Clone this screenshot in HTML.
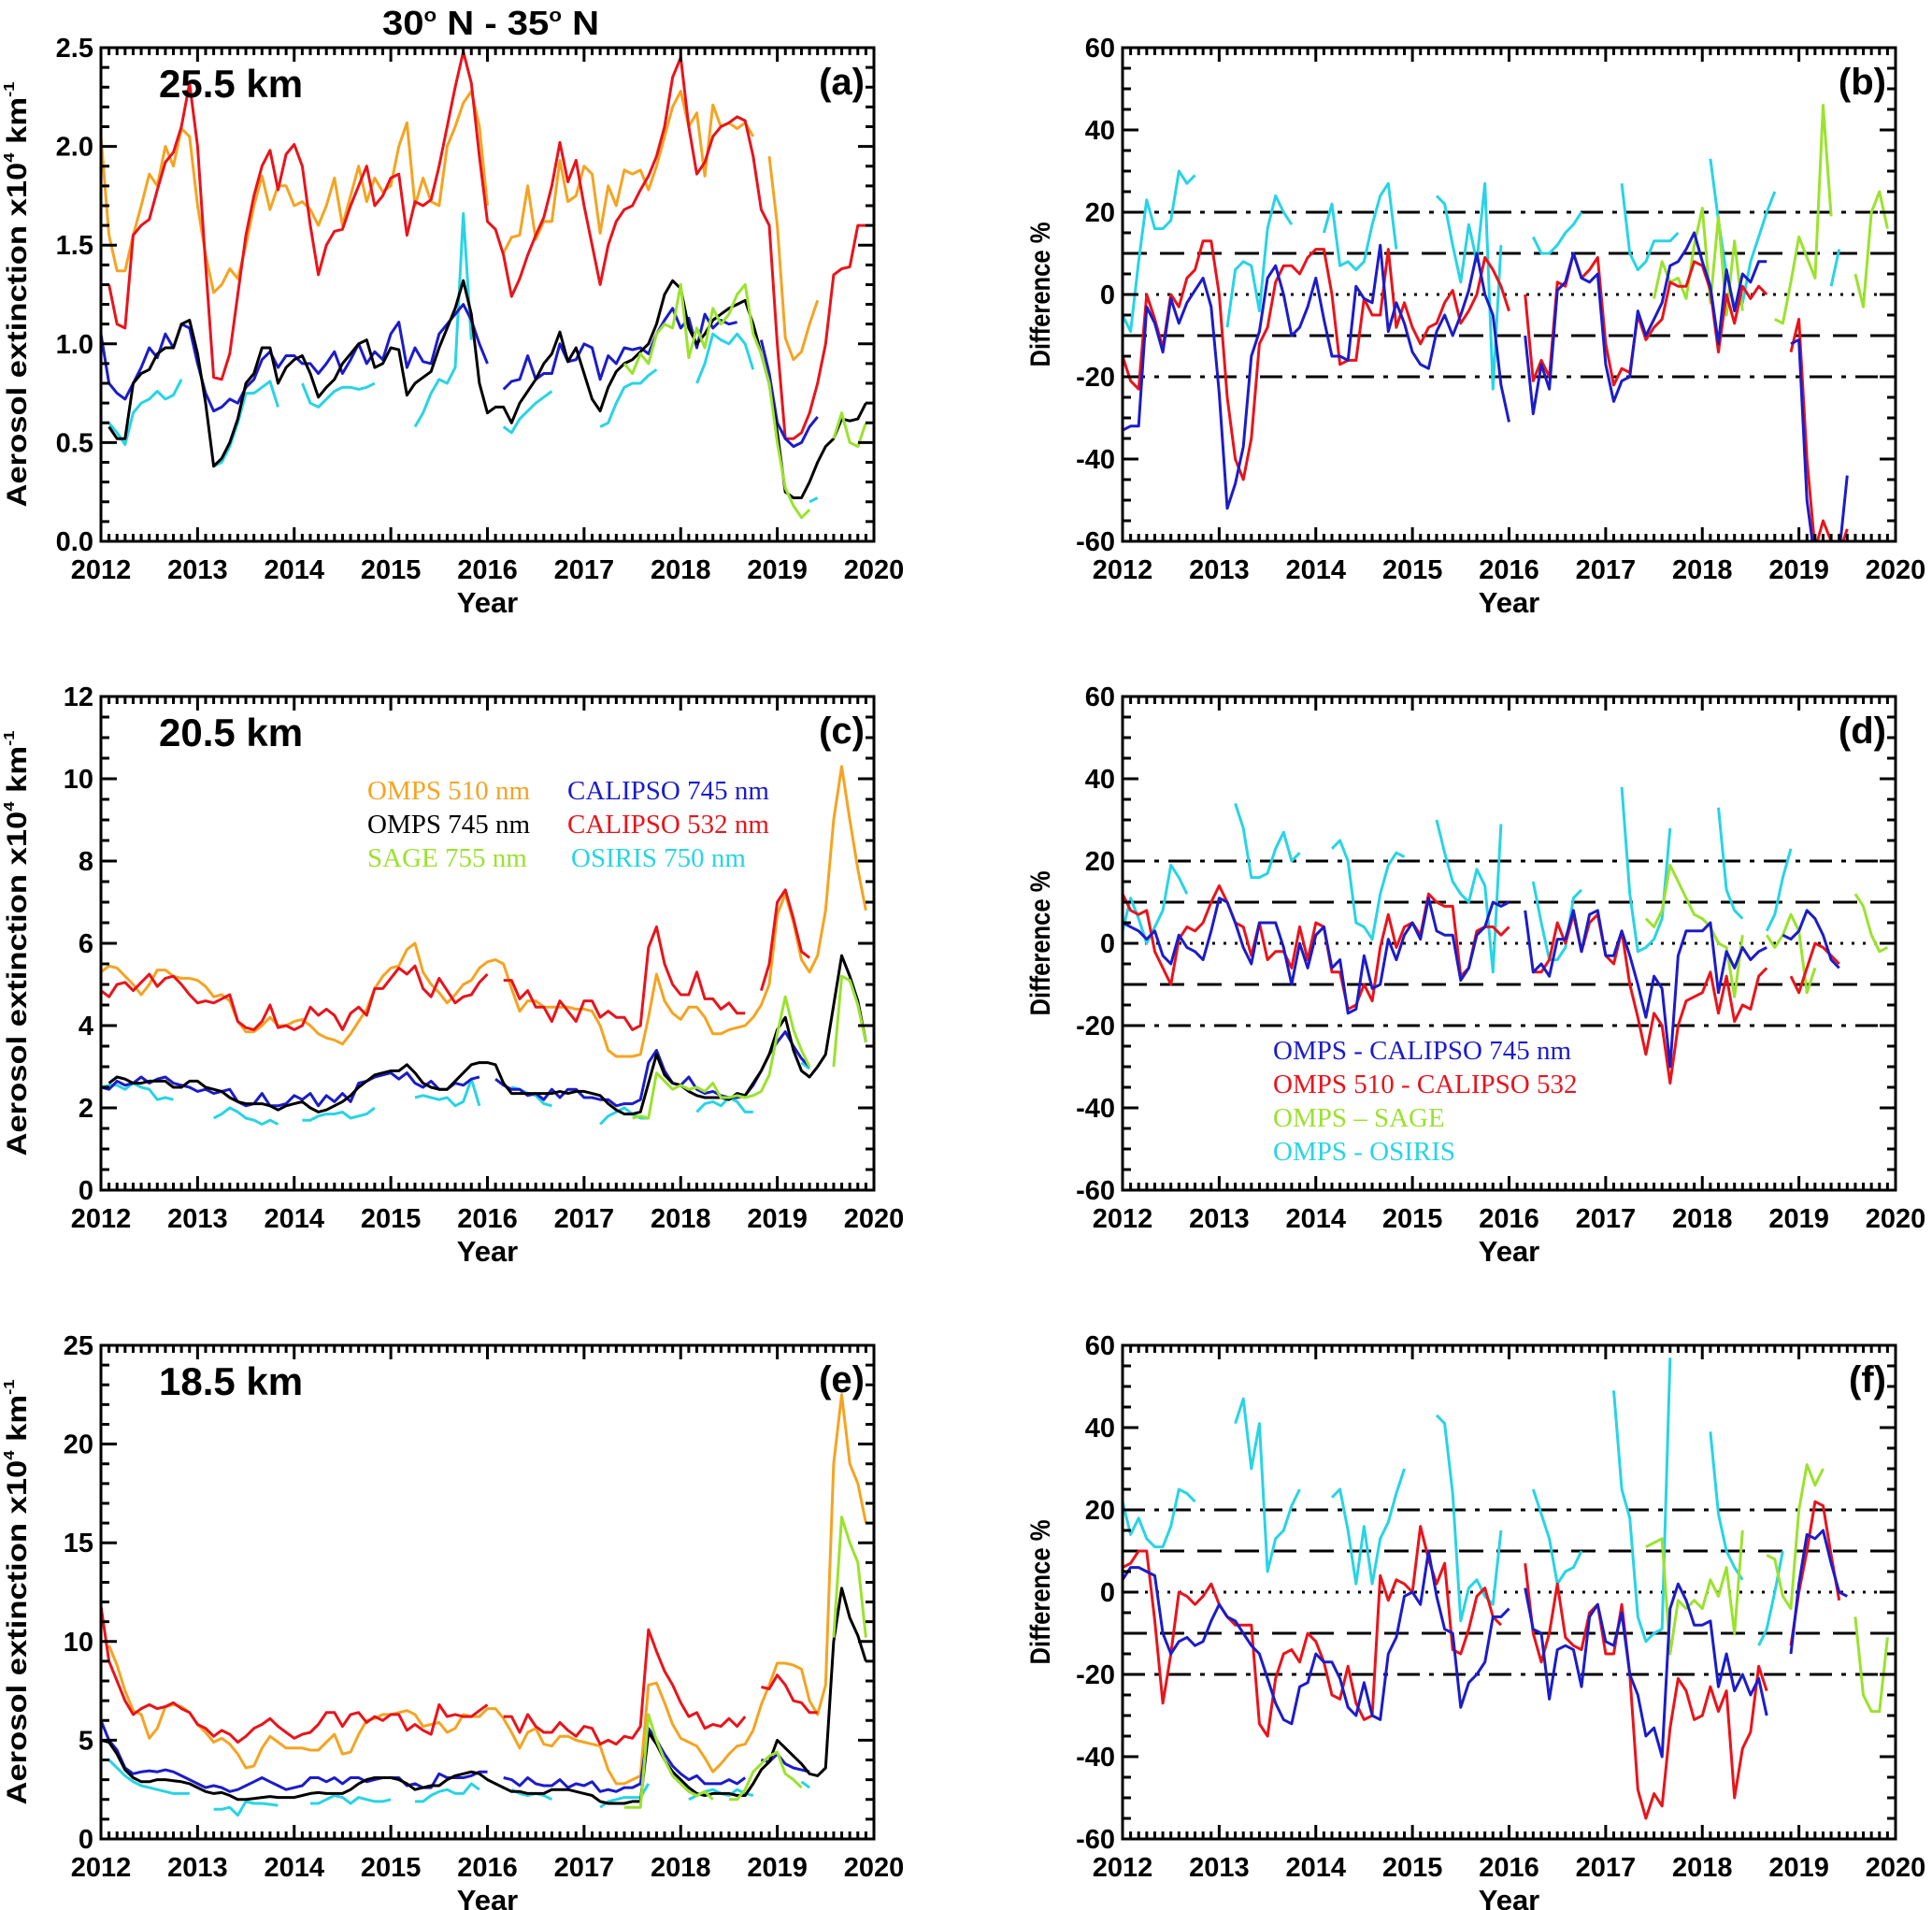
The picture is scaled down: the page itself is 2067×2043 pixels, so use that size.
<!DOCTYPE html>
<html><head><meta charset="utf-8"><title>30N-35N aerosol extinction</title>
<style>
html,body{margin:0;padding:0;background:#fff;}
svg{display:block;font-family:"Liberation Sans",Arial,sans-serif;}
.tk{font-weight:bold;font-size:29px;}
.leg{font-family:"Liberation Serif","Times New Roman",serif;font-size:29px;}
</style></head>
<body>
<svg id="fig" width="2067" height="2043" viewBox="0 0 2067 2043" xmlns="http://www.w3.org/2000/svg">
<text x="525" y="37" text-anchor="middle" font-weight="bold" font-size="36" textLength="232" lengthAdjust="spacingAndGlyphs">30<tspan font-size="20" dy="-14">o</tspan><tspan dy="14"> N - 35</tspan><tspan font-size="20" dy="-14">o</tspan><tspan dy="14"> N</tspan></text>
<g id="panels"></g>
<g class="leg">
<text x="393" y="855" fill="#F4A422">OMPS 510 nm</text>
<text x="607" y="855" fill="#1C1CC8">CALIPSO 745 nm</text>
<text x="393" y="891" fill="#000">OMPS 745 nm</text>
<text x="607" y="891" fill="#E8141C">CALIPSO 532 nm</text>
<text x="393" y="927" fill="#9BE22E">SAGE 755 nm</text>
<text x="611" y="927" fill="#28D4E4">OSIRIS 750 nm</text>
</g>
<g class="leg">
<text x="1362" y="1133" fill="#1C1CC8">OMPS - CALIPSO 745 nm</text>
<text x="1362" y="1169" fill="#E8141C">OMPS 510 - CALIPSO 532</text>
<text x="1362" y="1205" fill="#9BE22E">OMPS – SAGE</text>
<text x="1362" y="1241" fill="#28D4E4">OMPS - OSIRIS</text>
</g>
</svg>
<script>
const _ = null;
function ser(start, vals){ const a = new Array(96).fill(null); vals.forEach((v,i)=>{ if(start+i<96) a[start+i]=v; }); return a; }

const yearLabels = ["2012","2013","2014","2015","2016","2017","2018","2019","2020"];
const ticksA = ["0.0","0.5","1.0","1.5","2.0","2.5"];
const ticksC = ["0","2","4","6","8","10","12"];
const ticksE = ["0","5","10","15","20","25"];
const ticksDiff = ["-60","-40","-20","0","20","40","60"];

// Panel (a) 25.5 km
const aOrange = ser(0,[2.05,1.55,1.37,1.37,1.55,1.70,1.86,1.80,2.00,1.90,2.09,2.05, 1.70,1.45,1.26,1.30,1.38,1.33,1.50,1.70,1.85,1.68,1.80,1.80, 1.70,1.72,1.68,1.60,1.70,1.84,1.60,1.75,1.90,1.72,1.84,1.77, 1.80,2.00,2.12,1.70,1.84,1.72,1.70,2.00,2.10,2.22,2.28,2.10, 1.70,_,1.46,1.54,1.55,1.80,1.53,1.62,1.62,1.93,1.72,1.75, 1.90,1.86,1.56,1.80,1.70,1.88,1.86,1.88,1.78,1.90,2.05,2.20, 2.28,2.10,2.17,1.85,2.21,2.10,2.12,2.09,2.12,2.05,_,1.95, 1.60,1.03,0.92,0.96,1.10,1.22]);
const aRed = ser(0,[_,1.30,1.10,1.08,1.55,1.60,1.63,1.78,1.92,1.97,2.10,2.32, 2.00,1.40,0.83,0.82,0.95,1.25,1.55,1.75,1.90,1.98,1.78,1.96, 2.01,1.90,1.60,1.35,1.50,1.57,1.58,1.70,1.80,1.90,1.70,1.75, 1.84,1.86,1.55,1.72,1.70,1.73,1.90,2.10,2.30,2.48,2.32,1.95, 1.62,1.58,1.45,1.24,1.33,1.45,1.55,1.64,1.80,2.02,1.82,1.93, 1.70,1.50,1.30,1.50,1.62,1.68,1.70,1.78,1.85,1.95,2.10,2.35, 2.45,2.10,1.86,1.92,2.05,2.10,2.12,2.15,2.13,1.95,1.68,1.60, 1.00,0.52,0.52,0.55,0.65,0.80,1.00,1.35,1.38,1.39,1.60,1.60]);
const aBlack = ser(1,[0.58,0.52,0.52,0.80,0.85,0.87,0.95,0.98,0.98,1.10,1.12, 0.95,0.70,0.38,0.42,0.50,0.62,0.80,0.85,0.98,0.98,0.80,0.88, 0.92,0.94,0.85,0.73,0.78,0.82,0.90,0.95,1.00,1.02,0.88,0.90, 0.98,0.97,0.74,0.80,0.83,0.86,0.98,1.08,1.18,1.32,1.15,0.80, 0.65,0.68,0.68,0.60,0.70,0.76,0.82,0.90,0.95,1.06,0.91,0.98, 0.85,0.72,0.66,0.78,0.86,0.90,0.92,0.96,1.00,1.10,1.25,1.32, 1.28,1.08,1.00,1.05,1.12,1.15,1.18,1.20,1.22,1.10,0.95,0.80, 0.55,0.25,0.22,0.22,0.30,0.40,0.48,0.52,0.62,0.61,0.62,0.70]);
const aBlue = ser(0,[1.05,0.80,0.75,0.72,0.80,0.88,0.98,0.93,1.05,0.98,1.10,1.08, 0.90,0.75,0.66,0.68,0.72,0.70,0.78,0.82,0.92,0.96,0.88,0.94, 0.94,0.90,0.90,0.85,0.90,0.96,0.85,0.92,1.00,0.90,0.96,0.92, 1.05,1.11,0.88,0.98,0.91,0.90,1.05,1.10,1.15,1.20,1.12,1.00, 0.90,_,0.77,0.81,0.82,0.94,0.82,0.85,0.85,1.00,0.91,0.92, 1.00,0.98,0.82,0.94,0.90,0.98,0.97,0.98,0.95,1.05,1.12,1.18, 1.08,1.13,0.98,1.15,1.08,1.12,1.10,1.11,_,_,1.02,0.85, 0.60,0.52,0.48,0.50,0.58,0.63]);
const aCyan = ser(0,[0.60,0.60,0.55,0.49,0.65,0.70,0.72,0.76,0.72,0.74,0.82, _,_,_, 0.38,0.40,0.48,0.60,0.75,0.75,0.78,0.81,0.68, _,_, 0.80,0.70,0.68,0.72,0.76,0.78,0.78,0.77,0.78,0.80, _,_,_,_, 0.58,0.65,0.75,0.82,0.80,0.88,1.66,1.02, _,_,_, 0.58,0.55,0.62,0.66,0.70,0.73,0.76, _,_,_,_,_, 0.58,0.60,0.70,0.78,0.80,0.80,0.84,0.87, _,_,_,_, 0.80,0.90,1.05,1.02,1.00,1.05,1.00,0.87, _,_,_,_,_,_, 0.20,0.22]);
const aGreen = ser(65,[0.90,0.85,0.95,0.90,1.05,1.10,1.08,1.30,0.93,1.08,0.98,1.18, 1.10,1.15,1.25,1.30,1.05,0.95,0.80,0.50,0.27,0.18,0.12,0.16, _,_, 0.52,0.65,0.50,0.48,0.60]);

// Panel (b)
const bRed = ser(0,[-15,-21,-23,0,-6,-13,0,-3,4,6,13,13, 0,-25,-40,-45,-35,-12,-8,3,7,7,5,9, 11,11,0,-17,-16,-16,-1,-5,-5,11,-8,-2, -8,-12,-8,-7,-2,1,-7,-4,0,9,6,2, -4,_,0,-21,-16,-20,3,2,10,4,6,9, -12,-22,-18,-19,-5,-11,-8,-6,3,2,2,8, 7,1,-14,0,-7,2,-1,2,0,_,_,-14, -6,-40,-62,-55,-60,-63,-57]);
const bBlue = ser(0,[-33,-32,-32,-3,-7,-14,-1,-7,-2,1,4,-3, -24,-52,-46,-37,-15,-9,4,7,0,-10,-8,-3, 4,-6,-15,-15,-16,2,-1,-2,12,-9,-2,-7, -14,-17,-18,-9,-5,-10,-5,1,10,0,-5,-22, -31,_,-10,-29,-17,-23,1,3,10,4,3,5, -17,-26,-21,-20,-4,-10,-6,-2,7,8,11,15, 8,2,-12,6,-4,5,3,8,8,_,_,-12, -11,-50,-65,-70,-65,-63,-44]);
const bCyan = ser(0,[-5,-9,8,23,16,16,18,30,27,29, _,_,_, -8,6,8,7,-4,16,24,20,17, _,_,_, 15,22,7,8,6,8,17,24,27,11, _,_,_,_, 24,22,12,3,17,8,27,-23,12, _,_,_, 14,10,10,12,15,17,20, _,_,_,_, 27,10,6,8,13,13,13,15, _,_,_, 33,18,5,-3,-2,8,14,20,25, _,_,_,_,_,_, 2,11]);
const bGreen = ser(66,[-1,8,3,4,-1,12,21,-2,19,-5,13,-4, _,_,_, -6,-7,3,14,9,4,46,19, _,_, 5,-3,20,25,16]);

// Panel (c) 20.5 km
const cOrange = ser(0,[5.30,5.45,5.40,5.20,5.00,4.75,5.00,5.35,5.35,5.20,5.15,5.15, 5.10,4.95,4.70,4.75,4.60,4.10,3.85,3.85,4.00,4.20,4.00,4.00, 4.10,4.15,4.00,3.80,3.70,3.65,3.55,3.80,4.10,4.40,4.90,5.20, 5.40,5.45,5.85,6.00,5.30,5.00,4.80,4.55,4.75,5.00,5.10,5.40, 5.55,5.60,5.50,4.90,4.35,4.60,4.60,4.45,4.45,4.45,4.45,4.40, 4.40,4.35,4.00,3.40,3.25,3.25,3.25,3.30,4.20,5.25,4.60,4.30, 4.15,4.45,4.45,4.20,3.80,3.80,3.90,3.95,4.00,4.20,4.50,5.00, 6.70,7.20,6.50,5.60,5.30,5.70,6.80,9.00,10.30,9.00,7.80,6.80]);
const cRed = ser(0,[4.85,4.70,5.00,5.05,4.85,5.05,5.25,4.95,5.15,5.20,5.00,4.75, 4.55,4.60,4.55,4.65,4.75,4.10,3.95,3.90,4.10,4.50,3.95,4.00, 3.90,4.00,4.45,4.25,4.40,4.25,3.90,4.30,4.45,4.25,4.90,4.90, 5.15,5.40,5.25,5.45,4.90,4.70,5.15,4.85,4.55,4.70,4.75,5.05, 5.25,_,5.10,5.10,4.65,4.85,4.45,4.45,4.10,4.60,4.35,4.10, 4.60,4.60,4.20,4.35,4.20,4.20,3.90,4.00,5.90,6.40,5.50,5.00, 4.75,4.75,5.30,4.65,4.65,4.40,4.55,4.30,4.30,_,4.85,5.50, 7.00,7.30,6.60,5.80,5.65]);
const cBlack = ser(1,[2.60,2.75,2.70,2.60,2.60,2.65,2.65,2.65,2.50,2.50,2.65, 2.65,2.50,2.45,2.40,2.25,2.15,2.10,2.10,2.10,2.05,1.95,2.05, 2.10,2.15,2.00,1.90,1.95,2.05,2.15,2.30,2.50,2.65,2.80,2.85, 2.90,2.90,3.05,2.85,2.60,2.50,2.45,2.45,2.65,2.85,3.05,3.10, 3.10,3.05,2.60,2.35,2.35,2.35,2.35,2.35,2.35,2.40,2.35,2.40, 2.40,2.35,2.30,2.10,1.95,1.85,1.85,1.90,2.60,3.30,2.80,2.60, 2.55,2.40,2.30,2.25,2.25,2.25,2.20,2.35,2.30,2.60,2.90,3.30, 3.90,4.20,3.40,2.90,2.75,3.00,3.30,4.50,5.70,5.20,4.60,3.60]);
const cBlue = ser(0,[2.50,2.45,2.65,2.55,2.60,2.75,2.60,2.70,2.75,2.60,2.55,2.50, 2.40,2.45,2.35,2.40,2.45,2.15,2.05,2.10,2.35,2.05,2.05,2.10, 2.30,2.20,2.35,2.05,2.30,2.15,2.35,2.15,2.60,2.65,2.75,2.80, 2.85,2.70,2.85,2.60,2.50,2.65,2.45,2.45,2.60,2.55,2.70,2.75, _,2.70,2.55,2.45,2.45,2.30,2.35,2.20,2.45,2.25,2.45,2.45, 2.25,2.25,2.20,2.20,2.05,2.10,2.10,2.20,3.10,3.40,2.90,2.60, 2.55,2.75,2.45,2.35,2.40,2.30,2.25,2.25,2.30,2.55,2.90,3.30, 3.60,3.85,3.50,3.20,3.00]);
const cCyan = ser(0,[2.50,2.55,2.55,2.45,2.60,2.50,2.45,2.20,2.25,2.20, _,_,_,_, 1.75,1.85,2.00,1.90,1.75,1.70,1.60,1.70,1.60, _,_, 1.70,1.70,1.80,1.85,1.85,1.90,1.75,1.80,1.85,2.00, _,_,_,_, 2.25,2.30,2.25,2.20,2.25,2.05,2.15,2.70,2.05, _,_,_, 2.50,2.45,2.35,2.30,2.10,2.05, _,_,_,_,_, 1.60,1.80,1.90,2.00,1.85,1.75,1.75, _,_,_,_,_, 1.90,2.10,2.15,2.05,2.25,2.15,1.90,1.90, _,_,_,_,_, 3.10,2.95]);
const cGreen = ser(66,[1.75,1.80,1.75,2.85,2.65,2.45,2.55,2.45,2.50,2.40,2.60,2.25, 2.25,2.30,2.25,2.30,2.40,2.80,3.80,4.70,3.90,3.40,3.00,_, _,3.00,5.20,5.10,4.50,3.60]);

// Panel (d)
const dBlue = ser(0,[5,4,3,1,3,-3,-5,2,-1,-2,-4,3, 11,10,5,-1,-5,5,5,5,-1,-10,0,-6, 2,4,-6,-4,-17,-16,-3,-11,-10,1,-4,2, 5,1,11,3,2,2,-9,-6,2,4,10,9, 10,_,8,-7,-5,-8,1,1,8,-2,7,8, -3,-3,3,-3,-10,-18,-8,-11,-30,-3,3,3, 3,5,-12,-2,-6,-1,-4,-2,-1,_,2,1, 3,8,6,2,-4,-6]);
const dRed = ser(0,[12,8,7,8,-2,-6,-10,1,4,3,5,10, 14,10,5,4,-3,5,-4,-2,-2,-6,4,-4, 5,4,-7,-7,-16,-15,-10,-14,-1,7,-1,4, 5,2,12,10,9,9,-8,-6,3,4,4,2, 4,_,_,-7,-7,-4,5,0,7,-2,5,7, -3,-5,3,-10,-18,-27,-17,-20,-34,-20,-14,-13, -12,-7,-17,-8,-19,-15,-16,-8,-6,_,_,-8, -12,-6,0,-1,-3,-5]);
const dCyan = ser(0,[3,11,6,0,4,8,19,16,12, _,_,_,_,_, 34,28,16,16,17,23,27,20,22, _,_,_, 23,25,20,5,4,1,12,19,22,21, _,_,_, 30,22,15,12,10,18,14,-7,29, _,_,_, 15,5,-4,-4,-1,11,13, _,_,_,_, 38,12,-2,-1,1,6,28, _,_,_,_,_, 33,13,8,6,_,_,3,7,16,23]);
const dGreen = ser(65,[6,4,8,19,15,11,7,6,4,0,-1,-13,2, _,_, 2,-1,2,7,3,-12,-6, _,_,_,_, 12,9,2,-2,-1]);

// Panel (e) 18.5 km
const eRed = ser(0,[11.8,9.0,8.0,7.0,6.3,6.6,6.8,6.6,6.7,6.9,6.6,6.4, 5.8,5.6,5.2,5.5,5.3,4.9,5.2,5.6,5.8,6.1,5.7,5.4, 5.1,5.3,5.4,5.8,6.4,6.4,5.7,6.3,6.4,5.9,6.2,6.0, 6.3,6.3,5.5,5.8,5.5,5.3,6.8,6.2,6.3,6.2,6.2,6.5, 6.8,_,6.2,6.2,5.4,6.3,5.7,5.4,5.4,5.9,5.5,5.2, 5.7,5.6,4.8,5.0,4.8,5.2,5.1,5.7,10.6,9.5,8.5,7.8, 6.9,6.2,6.4,5.6,5.8,5.7,6.1,5.7,6.2,_,7.7,7.6, 8.3,7.8,7.0,6.9,6.4,6.4]);
const eOrange = ser(1,[9.8,8.8,7.5,6.5,6.3,5.1,5.6,6.7,6.8,6.7,6.4, 5.8,5.4,4.9,5.1,4.8,4.3,3.6,3.7,4.6,5.2,4.9,4.6, 4.6,4.6,4.5,4.5,4.9,5.3,4.3,4.4,5.3,6.0,6.1,6.3, 6.3,6.4,6.5,6.3,5.7,5.8,5.9,5.4,5.6,6.3,6.2,6.2, 6.6,6.6,6.1,5.4,4.6,5.4,5.6,4.8,4.7,5.2,5.2,5.0, 4.9,4.8,4.7,3.5,2.8,2.8,3.0,3.2,7.8,7.9,6.9,5.8, 5.1,4.9,4.7,4.1,3.4,3.8,4.3,4.7,4.8,5.5,6.8,7.8, 8.9,8.9,8.8,8.6,7.0,6.3,7.8,19.0,22.5,19.0,18.0,16.0]);
const eBlack = ser(0,[5.0,4.9,4.3,3.5,3.1,2.9,2.9,3.0,3.0,2.95,2.9,2.8, 2.6,2.4,2.3,2.35,2.2,2.0,2.0,2.05,2.1,2.15,2.1,2.1, 2.1,2.2,2.3,2.35,2.3,2.3,2.3,2.5,2.8,3.0,3.1,3.1, 3.1,3.0,2.8,2.5,2.6,2.7,2.7,3.0,3.2,3.3,3.4,3.3, 3.0,2.8,2.6,2.4,2.4,2.3,2.3,2.3,2.5,2.5,2.5,2.4, 2.3,2.2,1.9,1.8,1.8,1.8,1.9,1.9,5.4,4.8,4.0,3.4, 3.0,2.6,2.3,2.2,2.3,2.3,2.3,2.2,2.2,2.8,3.5,3.9, 5.0,4.6,4.2,3.8,3.3,3.2,3.6,10.0,12.7,11.2,10.3,9.0]);
const eBlue = ser(0,[6.0,5.0,4.5,3.6,3.3,3.4,3.45,3.4,3.5,3.4,3.2,3.0, 2.8,2.6,2.7,2.6,2.4,2.5,2.7,2.9,3.1,2.9,2.7,2.5, 2.6,2.7,3.1,3.1,2.9,3.1,2.8,3.1,3.1,2.9,3.0,3.1, 3.1,3.1,2.7,2.8,2.6,2.6,3.3,3.1,3.1,3.1,3.2,3.4, 3.4,_,3.1,3.0,2.7,3.1,2.8,2.7,2.7,3.0,2.6,2.8, 2.7,2.9,2.4,2.5,2.4,2.6,2.6,2.8,5.6,5.0,4.3,3.7, 3.3,3.0,3.2,2.8,2.8,2.8,3.0,2.8,3.1,_,4.0,3.9, 4.3,3.8,3.6,3.5,3.4]);
const eCyan = ser(0,[4.0,4.0,3.6,3.2,2.9,2.7,2.6,2.5,2.4,2.3,2.3,2.3, _,_, 1.5,1.5,1.6,1.2,1.9,1.8,1.8,1.75,1.7, _,_,_, 1.8,1.8,2.0,2.2,2.1,1.8,2.1,2.0,1.9,1.9,2.0, _,_, 1.9,1.9,2.2,2.4,2.5,2.3,2.3,2.8,2.5, _,_,_, 2.5,2.3,2.2,2.3,2.2,2.0, _,_,_,_,_, 1.6,1.9,2.0,2.1,2.1,2.1,2.8, _,_,_,_, 2.0,2.2,2.4,2.5,2.3,2.2,2.5,2.3,2.2, _,_,_,_,_, 2.9,2.6]);
const eGreen = ser(65,[1.6,1.6,1.6,6.3,5.0,4.0,3.2,2.8,2.4,2.2,2.4,2.0, _, 2.0,2.0,2.5,3.4,3.8,4.2,4.4,3.3,3.0,2.6, _,_,_, 10.2,16.3,15.0,14.0,10.2]);

// Panel (f)
const fRed = ser(0,[6,7,10,10,-7,-27,-15,0,-1,-3,-1,2, -3,-6,-8,-8,-8,-32,-35,-21,-15,-14,-17,-10, -12,-17,-25,-26,-18,-27,-31,-30,4,-2,3,2, 0,16,8,2,7,-14,-15,-9,-1,1,-6,-8, _,_,7,-10,-17,-10,2,-11,-13,-14,-5,-3, -15,-15,-3,-20,-48,-55,-49,-52,-33,-21,-24,-31, -30,-23,-29,-24,-50,-38,-34,-18,-24,_,_,-13, 0,10,22,21,9,-2]);
const fBlue = ser(0,[3,6,6,5,4,-10,-15,-12,-11,-13,-12,-7, -3,-6,-7,-10,-13,-15,-21,-27,-31,-32,-23,-22, -15,-17,-17,-21,-28,-30,-22,-30,-31,-15,-11,-1, 0,-3,10,-1,-9,-10,-28,-22,-20,-17,-6,-6, -4,_,1,-9,-10,-26,-14,-13,-14,-23,-6,-3, -12,-13,-5,-20,-25,-35,-33,-40,-4,2,-2,-8, -8,-7,-23,-15,-24,-20,-25,-21,-30,_,_,-15, 2,14,13,15,7,0,-1]);
const fCyan = ser(0,[22,14,18,13,11,11,16,25,24,22, _,_,_,_, 41,47,30,41,5,13,15,21,25, _,_,_, 23,25,15,2,16,2,13,17,24,30, _,_,_, 43,41,24,-7,1,3,-1,-3,15, _,_,_, 25,19,13,2,5,6,10, _,_,_, 49,25,18,-6,-12,-10,-9,57, _,_,_,_, 39,19,10,6,3,_, -13,-9,0,10]);
const fGreen = ser(65,[11,12,13,-15,-2,-4,-2,-4,3,-1,6,-10,15, _,_, 9,8,-1,-4,20,31,26,30, _,_,_, -6,-25,-29,-29,-11]);

const C = {orange:"#F4A422", red:"#E8141C", blue:"#1C1CC8", black:"#000000", green:"#9BE22E", cyan:"#28D4E4"};
const NS = "http://www.w3.org/2000/svg";
const root = document.getElementById('panels');
function mk(tag, attrs, parent){ const e = document.createElementNS(NS, tag); for (const k in attrs) e.setAttribute(k, attrs[k]); (parent||root).appendChild(e); return e; }

const L = 108, R = 1201, W = 827, H = 528, TOPS = [51, 745, 1439];

function panel(cfg){
  const x0 = cfg.x, y0 = cfg.y;
  const g = mk('g', {});
  
  
  const xs = m => x0 + (m / 96) * W;
  const ys = v => y0 + H - (v - cfg.ymin) / (cfg.ymax - cfg.ymin) * H;
  const cp = mk('clipPath', {id: 'clip-' + cfg.id}, g);
  mk('rect', {x: x0, y: y0, width: W, height: H}, cp);
  // reference lines
  if (cfg.refs) {
    const refs = [[20, '24 10 5 10'], [-20, '24 10 5 10'], [10, '26 14'], [-10, '26 14'], [0, '3 9']];
    refs.forEach(r => {
      const ln = mk('line', {x1: x0, x2: x0 + W, y1: ys(r[0]), y2: ys(r[0]), stroke: '#000', 'stroke-width': r[0] === 0 ? 3 : 3, 'stroke-dasharray': r[1]}, g);
      
      
    });
  }
  // series
  const sg = mk('g', {'clip-path': 'url(#clip-' + cfg.id + ')'}, g);
  
  
  cfg.series.forEach(s => {
    let d = '', pen = false;
    s.data.forEach((v, m) => {
      if (v === null) { pen = false; return; }
      d += (pen ? 'L' : 'M') + xs(m).toFixed(1) + ' ' + ys(v).toFixed(1);
      pen = true;
    });
    const p = mk('path', {d: d, fill: 'none', stroke: C[s.color], 'stroke-width': 3, 'stroke-linejoin': 'round'}, sg);
    
    
  });
  // frame
  const fr = mk('rect', {x: x0, y: y0, width: W, height: H, fill: 'none', stroke: '#000', 'stroke-width': 3}, g);
  
  
  // x ticks
  let td = '';
  for (let m = 0; m <= 96; m++) {
    const x = xs(m), len = (m % 12 === 0) ? 15 : 8;
    td += 'M' + x + ' ' + (y0 + H) + 'v' + (-len) + 'M' + x + ' ' + y0 + 'v' + len;
  }
  // y ticks
  const nMin = Math.round((cfg.ymax - cfg.ymin) / cfg.minor);
  const per = Math.round(cfg.major / cfg.minor);
  for (let i = 0; i <= nMin; i++) {
    const y = ys(cfg.ymin + i * cfg.minor), len = (i % per === 0) ? 17 : 9;
    td += 'M' + x0 + ' ' + y + 'h' + len + 'M' + (x0 + W) + ' ' + y + 'h' + (-len);
  }
  const tk = mk('path', {d: td, stroke: '#000', 'stroke-width': 3, fill: 'none'}, g);
  
  
  // labels
  yearLabels.forEach((lab, i) => {
    const t = mk('text', {x: xs(i * 12), y: y0 + H + 40, 'text-anchor': 'middle', class: 'tk'}, g);
    t.textContent = lab;
    
    
  });
  cfg.ticks.forEach((lab, i) => {
    const t = mk('text', {x: x0 - 8, y: ys(cfg.ymin + i * cfg.major) + 10, 'text-anchor': 'end', class: 'tk'}, g);
    t.textContent = lab;
    
    
  });
  const xt = mk('text', {x: x0 + W / 2, y: y0 + H + 76, 'text-anchor': 'middle', 'font-weight': 'bold', 'font-size': 31}, g);
  xt.textContent = 'Year';
  
  
  const yc = y0 + H / 2;
  const yt = mk('text', {x: 0, y: 0, 'text-anchor': 'middle', 'font-weight': 'bold', 'font-size': 30, transform: 'translate(' + (x0 - (cfg.refs ? 78 : 80)) + ',' + yc + ') rotate(-90)'}, g);
  
  
  if (cfg.refs) {
    yt.setAttribute('textLength', '155');
    yt.setAttribute('lengthAdjust', 'spacingAndGlyphs');
    yt.textContent = 'Difference %';
  } else {
    yt.setAttribute('textLength', '455');
    yt.setAttribute('lengthAdjust', 'spacingAndGlyphs');
    yt.innerHTML = 'Aerosol extinction  x10<tspan font-size="16" dy="-13">4</tspan><tspan dy="13"> km</tspan><tspan font-size="16" dy="-13">-1</tspan>';
  }
  const pl = mk('text', {x: x0 + W - 10, y: y0 + 50, 'text-anchor': 'end', 'font-weight': 'bold', 'font-size': 40}, g);
  pl.textContent = '(' + cfg.id + ')';
  
  
  if (cfg.alt) {
    const at = mk('text', {x: x0 + 62, y: y0 + 53, 'font-weight': 'bold', 'font-size': 42}, g);
    at.textContent = cfg.alt;
    
    
  }
}

const diffSeries = (r, b, c, gr) => [
  {name: 'cyan', color: 'cyan', data: c}, {name: 'green', color: 'green', data: gr},
  {name: 'red', color: 'red', data: r}, {name: 'blue', color: 'blue', data: b}];
const extSeries = (o, r, cy, bl, k, gr) => [
  {name: 'omps510', color: 'orange', data: o}, {name: 'calipso532', color: 'red', data: r},
  {name: 'osiris', color: 'cyan', data: cy}, {name: 'calipso745', color: 'blue', data: bl},
  {name: 'omps745', color: 'black', data: k}, {name: 'sage', color: 'green', data: gr}];

panel({id: 'a', x: L, y: TOPS[0], ymin: 0, ymax: 2.5, major: 0.5, minor: 0.1, ticks: ticksA, alt: '25.5 km', series: extSeries(aOrange, aRed, aCyan, aBlue, aBlack, aGreen)});
panel({id: 'b', x: R, y: TOPS[0], ymin: -60, ymax: 60, major: 20, minor: 5, ticks: ticksDiff, refs: true, series: diffSeries(bRed, bBlue, bCyan, bGreen)});
panel({id: 'c', x: L, y: TOPS[1], ymin: 0, ymax: 12, major: 2, minor: 0.5, ticks: ticksC, alt: '20.5 km', series: extSeries(cOrange, cRed, cCyan, cBlue, cBlack, cGreen)});
panel({id: 'd', x: R, y: TOPS[1], ymin: -60, ymax: 60, major: 20, minor: 5, ticks: ticksDiff, refs: true, series: diffSeries(dRed, dBlue, dCyan, dGreen)});
panel({id: 'e', x: L, y: TOPS[2], ymin: 0, ymax: 25, major: 5, minor: 1, ticks: ticksE, alt: '18.5 km', series: extSeries(eOrange, eRed, eCyan, eBlue, eBlack, eGreen)});
panel({id: 'f', x: R, y: TOPS[2], ymin: -60, ymax: 60, major: 20, minor: 5, ticks: ticksDiff, refs: true, series: diffSeries(fRed, fBlue, fCyan, fGreen)});
</script>
</body></html>
